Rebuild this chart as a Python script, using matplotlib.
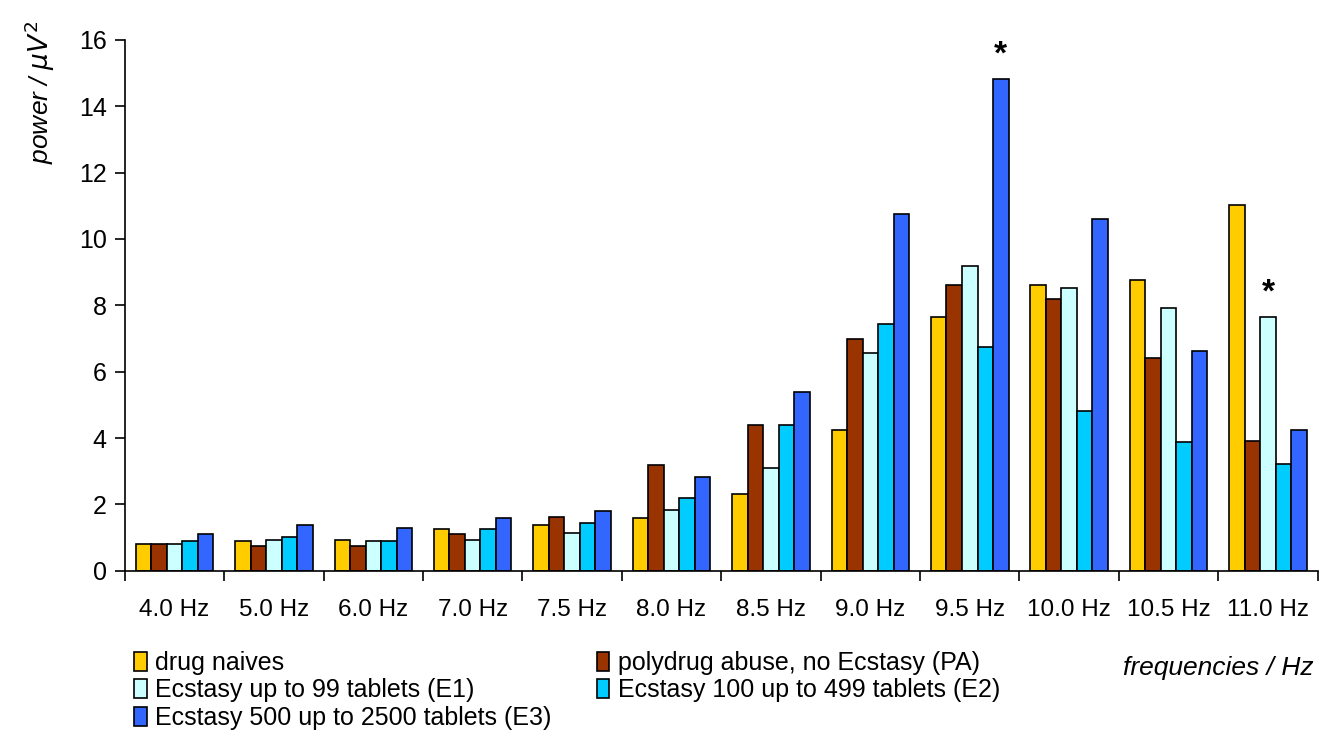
import matplotlib
matplotlib.use('Agg')
import matplotlib.pyplot as plt
import numpy as np

plt.rcParams['font.family'] = ['Liberation Sans', 'DejaVu Sans']

# frequency bins and group labels
freqs = ['4.0 Hz', '5.0 Hz', '6.0 Hz', '7.0 Hz', '7.5 Hz', '8.0 Hz',
         '8.5 Hz', '9.0 Hz', '9.5 Hz', '10.0 Hz', '10.5 Hz', '11.0 Hz']
groups = ['drug naives', 'polydrug abuse, no Ecstasy (PA)',
          'Ecstasy up to 99 tablets (E1)', 'Ecstasy 100 up to 499 tablets (E2)',
          'Ecstasy 500 up to 2500 tablets (E3)']

# power values
naives = [0.80, 0.90, 0.92, 1.25, 1.38, 1.60, 2.32, 4.25, 7.65, 8.60, 8.75, 11.02]
pa     = [0.80, 0.75, 0.75, 1.10, 1.62, 3.18, 4.38, 6.98, 8.60, 8.18, 6.42, 3.92]
e1     = [0.80, 0.92, 0.90, 0.92, 1.15, 1.82, 3.10, 6.55, 9.18, 8.52, 7.92, 7.65]
e2     = [0.90, 1.02, 0.90, 1.25, 1.45, 2.18, 4.38, 7.45, 6.75, 4.82, 3.88, 3.22]
e3     = [1.10, 1.38, 1.28, 1.58, 1.80, 2.82, 5.38, 10.75, 14.82, 10.60, 6.62, 4.25]

# significance marks: (frequency index, group index)
stars = [(8, 4), (11, 2)]

colors = ['#FFCC00', '#993300', '#CCFFFF', '#00CCFF', '#3366FF']
series = [naives, pa, e1, e2, e3]

fig = plt.figure(figsize=(13.27, 7.5), dpi=100)
ax = fig.add_axes([0.094, 0.239, 0.899, 0.708])

x = np.arange(len(freqs))
w = 0.156
bars = []
for i, (vals, col, lab) in enumerate(zip(series, colors, groups)):
    b = ax.bar(x + (i - 2) * w, vals, width=w, color=col, edgecolor='black',
               linewidth=1.2, label=lab)
    bars.append(b)

for fi, gi in stars:
    ax.text(x[fi] + (gi - 2) * w, series[gi][fi] + 0.25, '*', ha='center',
            va='bottom', fontsize=24, fontweight='bold')

ax.set_xlim(-0.5, len(freqs) - 0.5)
ax.set_ylim(0, 16)
ax.set_yticks(range(0, 17, 2))
ax.tick_params(axis='y', labelsize=18, direction='out', length=7, width=1.2, pad=6)
ax.set_xticks(x)
ax.set_xticklabels(freqs, fontsize=17.5)
ax.tick_params(axis='x', length=0, pad=20)
ax.set_xticks(np.arange(-0.5, len(freqs), 1.0), minor=True)
ax.tick_params(axis='x', which='minor', length=7, width=1.2, direction='out')
for s in ['top', 'right']:
    ax.spines[s].set_visible(False)
for s in ['left', 'bottom']:
    ax.spines[s].set_linewidth(1.2)

fig.text(0.03, 0.877, 'power / $\\mu V^2$', rotation=90, ha='center', va='center',
         fontsize=19, style='italic')
fig.text(0.99, 0.109, 'frequencies / Hz', ha='right', va='center',
         fontsize=19, style='italic')

handles = [bars[0], bars[2], bars[4], bars[1], bars[3]]
labels = [groups[0], groups[2], groups[4], groups[1], groups[3]]
fig.legend(handles, labels, loc='upper left', bbox_to_anchor=(0.101, 0.132),
           ncol=2, frameon=False, fontsize=18, handlelength=0.5, handleheight=0.8,
           handletextpad=0.35, labelspacing=0.14, columnspacing=1.8,
           borderaxespad=0, borderpad=0)

fig.savefig('out.png', dpi=100)
